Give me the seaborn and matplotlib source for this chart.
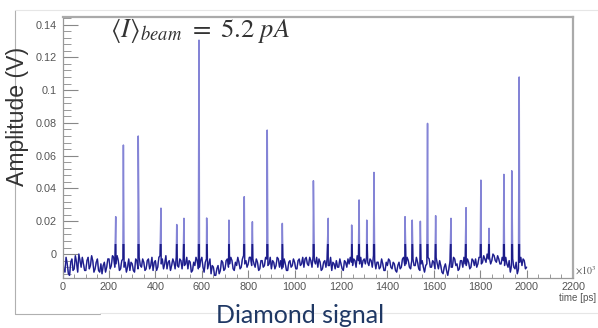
import numpy as np
import pandas as pd
import matplotlib
matplotlib.use('Agg')
import matplotlib.pyplot as plt
from matplotlib.lines import Line2D
from matplotlib.patches import Rectangle
from matplotlib.ticker import MultipleLocator, FixedLocator
import seaborn as sb

# baseline of the trace, samples at 0, 10, ... 2000 ps (V)
base_t = list(range(0, 2001, 10))
base_amp = [
    -0.004, -0.011, -0.006, -0.013, -0.003, -0.009, -0.005, 0.000, -0.008, -0.006,
    -0.010, -0.002, -0.007, -0.004, -0.009, -0.003, -0.011, -0.012, -0.005, -0.008,
    -0.003, -0.007, -0.002, -0.006, -0.004, -0.009, -0.003, -0.005, -0.008, -0.010,
    -0.006, -0.011, -0.004, -0.002, -0.008, -0.005, -0.009, -0.003, -0.007, -0.010,
    -0.004, -0.008, -0.001, -0.003, -0.006, -0.009, -0.004, -0.007, -0.005, -0.002,
    -0.008, -0.004, -0.003, -0.006, -0.009, -0.005, -0.010, -0.007, -0.004, -0.008,
    -0.002, -0.011, -0.003, -0.006, -0.012, -0.008, -0.013, -0.007, -0.010, -0.005,
    -0.009, -0.003, -0.006, -0.004, -0.010, -0.007, -0.005, -0.008, -0.001, -0.004,
    -0.006, -0.002, -0.003, -0.008, -0.005, -0.009, -0.004, -0.007, -0.003, -0.006,
    -0.009, -0.005, -0.007, -0.003, -0.004, -0.008, -0.006, -0.010, -0.004, -0.007,
    -0.005, -0.009, -0.003, -0.006, -0.008, -0.002, -0.007, -0.004, -0.001, -0.006,
    -0.008, -0.005, -0.009, -0.004, -0.003, -0.007, -0.010, -0.006, -0.004, -0.008,
    -0.006, -0.010, -0.005, -0.003, -0.002, -0.007, -0.004, -0.001, -0.006, -0.008,
    -0.003, -0.002, -0.007, -0.004, -0.001, -0.009, -0.005, -0.008, -0.006, -0.010,
    -0.007, -0.004, -0.009, -0.006, -0.011, -0.005, -0.008, -0.002, -0.006, -0.004,
    -0.009, -0.003, -0.007, -0.005, -0.010, -0.004, -0.011, -0.006, -0.003, -0.008,
    -0.005, -0.002, -0.009, -0.007, -0.012, -0.006, -0.013, -0.004, -0.008, -0.003,
    -0.006, -0.009, -0.004, -0.002, -0.007, -0.005, -0.008, -0.004, -0.003, -0.006,
    -0.002, -0.005, -0.003, 0.000, -0.002, -0.004, -0.001, -0.005, -0.003, -0.006,
    -0.004, -0.002, -0.008, -0.011, -0.003, -0.009, -0.012, -0.005, -0.007, -0.004,
    -0.008,
]
# in-between samples at 5, 15, ... 1995 ps (V)
mid_t = list(range(5, 2000, 10))
mid_amp = [
    -0.009, -0.002, -0.012, -0.005, -0.010, -0.001, -0.011, -0.004, -0.002, -0.010,
    -0.004, -0.009, -0.001, -0.011, -0.005, -0.010, -0.006, -0.007, -0.011, -0.003,
    -0.009, -0.001, -0.008, -0.001, -0.010, -0.004, -0.008, -0.011, -0.003, -0.005,
    -0.010, -0.003, -0.009, -0.007, -0.003, -0.010, -0.004, -0.009, -0.002, -0.005,
    -0.010, -0.002, -0.006, -0.009, -0.001, -0.005, -0.010, -0.003, -0.009, -0.007,
    -0.003, -0.009, -0.007, -0.002, -0.004, -0.011, -0.005, -0.002, -0.009, -0.004,
    -0.008, -0.005, -0.009, -0.003, -0.007, -0.013, -0.009, -0.012, -0.004, -0.010,
    -0.004, -0.008, -0.002, -0.009, -0.005, -0.002, -0.009, -0.003, -0.006, -0.008,
    -0.002, -0.007, -0.006, -0.003, -0.010, -0.004, -0.008, -0.002, -0.007, -0.002,
    -0.004, -0.009, -0.002, -0.008, -0.009, -0.003, -0.010, -0.005, -0.008, -0.003,
    -0.009, -0.004, -0.007, -0.002, -0.003, -0.006, -0.002, -0.008, -0.004, -0.002,
    -0.003, -0.010, -0.005, -0.008, -0.007, -0.002, -0.005, -0.009, -0.008, -0.003,
    -0.009, -0.004, -0.008, -0.006, -0.005, -0.003, -0.008, -0.004, -0.002, -0.004,
    -0.006, -0.005, -0.003, -0.008, -0.004, -0.005, -0.009, -0.003, -0.010, -0.005,
    -0.003, -0.008, -0.005, -0.010, -0.007, -0.009, -0.003, -0.007, -0.002, -0.008,
    -0.004, -0.007, -0.002, -0.009, -0.006, -0.008, -0.007, -0.002, -0.008, -0.004,
    -0.009, -0.006, -0.004, -0.011, -0.008, -0.010, -0.009, -0.008, -0.002, -0.007,
    -0.010, -0.004, -0.008, -0.006, -0.003, -0.009, -0.003, -0.007, -0.008, -0.002,
    -0.006, -0.001, -0.005, -0.003, -0.006, 0.000, -0.004, -0.001, -0.006, -0.002,
    -0.007, -0.006, -0.004, -0.007, -0.008, -0.005, -0.009, -0.002, -0.003, -0.009,
]

# signal spikes (ps, V)
peak_t = [229, 262, 326, 424, 492, 523, 588, 621, 717, 783, 818, 882, 947,
          1081, 1145, 1246, 1278, 1311, 1342, 1476, 1507, 1542, 1573, 1608,
          1674, 1739, 1803, 1838, 1902, 1936, 1968]
peak_amp = [0.0228, 0.0665, 0.072, 0.028, 0.018, 0.0218, 0.1305, 0.022,
            0.0207, 0.035, 0.0197, 0.0756, 0.0187, 0.0447, 0.0218, 0.0177,
            0.033, 0.0207, 0.0498, 0.0228, 0.0207, 0.020, 0.0797, 0.0234,
            0.0218, 0.0283, 0.0451, 0.0157, 0.0486, 0.0508, 0.108]

y_ticks = [0, 0.02, 0.04, 0.06, 0.08, 0.1, 0.12, 0.14]
y_labels = ['0', '0.02', '0.04', '0.06', '0.08', '0.1', '0.12', '0.14']
x_ticks = [0, 200, 400, 600, 800, 1000, 1200, 1400, 1600, 1800, 2000, 2200]

trace = pd.concat([
    pd.DataFrame({'t': base_t, 'amp': base_amp}),
    pd.DataFrame({'t': mid_t, 'amp': mid_amp}),
    pd.DataFrame({'t': peak_t, 'amp': peak_amp}),
]).sort_values('t')

sb.set_style('white')
plt.rcParams['font.family'] = ['Liberation Sans', 'DejaVu Sans']
plt.rcParams['mathtext.fontset'] = 'stix'

fig = plt.figure(figsize=(5.98, 3.28), dpi=100)
ax = fig.add_axes([62.6 / 598, 1 - 278 / 328, 510.4 / 598, 261 / 328])

# thin light trace (spikes look pale), dark only inside the noise band
sb.lineplot(data=trace, x='t', y='amp', ax=ax, estimator=None, sort=False,
            color='#8484d6', linewidth=1.1)
sb.lineplot(data=trace, x='t', y='amp', ax=ax, estimator=None, sort=False,
            color='#1c1c88', linewidth=0.85)
band = Rectangle((0, -0.02), 2200, 0.026, transform=ax.transData)
ax.lines[-1].set_clip_path(band)

ax.set_xlim(0, 2200)
ax.set_ylim(-0.0146, 0.1446)
ax.set_xlabel('')
ax.set_ylabel('')

ax.xaxis.set_major_locator(FixedLocator(x_ticks))
ax.xaxis.set_minor_locator(MultipleLocator(50))
ax.set_xticklabels([str(v) for v in x_ticks])
ax.yaxis.set_major_locator(FixedLocator(y_ticks))
ax.yaxis.set_minor_locator(MultipleLocator(0.004))
ax.set_yticklabels(y_labels)

ax.tick_params(axis='x', which='major', direction='in', length=6, width=0.8,
               color='#888888', labelsize=7.8, labelcolor='#555555', pad=3,
               bottom=True)
ax.tick_params(axis='x', which='minor', direction='in', length=3, width=0.6,
               color='#888888', bottom=True)
ax.tick_params(axis='y', which='major', direction='in', length=11, width=0.8,
               color='#888888', labelsize=7.8, labelcolor='#555555', pad=4,
               left=True)
ax.tick_params(axis='y', which='minor', direction='in', length=5.5, width=0.6,
               color='#888888', left=True)

for side in ['left', 'bottom']:
    ax.spines[side].set_color('#999999')
    ax.spines[side].set_linewidth(0.9)
for side in ['top', 'right']:
    ax.spines[side].set_color('#aaaaaa')
    ax.spines[side].set_linewidth(1.6)

fig.text(575 / 598, 1 - 271 / 328, r'$\times10^{3}$', fontsize=7,
         color='#555555', ha='left', va='center')
fig.text(596 / 598, 1 - 298 / 328, 'time [ps]', fontsize=7,
         color='#555555', ha='right', va='center')

ylab = fig.text(18 / 598, 1 - 116 / 328, 'Amplitude (V)', fontsize=16,
                color='#333333', rotation=90, ha='center', va='center')
note = fig.text(110 / 598, 1 - 37 / 328,
                r'$\langle I\rangle_{beam}\ =\ 5.2\ pA$',
                fontsize=18, color='#333333', ha='left', va='baseline')

# size both texts to the lengths they have on the slide
fig.canvas.draw()
r = fig.canvas.get_renderer()
ylab.set_fontsize(16 * 140 / ylab.get_window_extent(r).height)
note.set_fontsize(18 * 180 / note.get_window_extent(r).width)

fig.text(300 / 598, 1 - 323 / 328, 'Diamond signal', fontsize=18,
         family=['Lato', 'DejaVu Sans'], color='#1f3864',
         ha='center', va='baseline')

# slide picture border
border = dict(transform=fig.transFigure, linewidth=0.8)
fig.add_artist(Line2D([15 / 598, 15 / 598], [1 - 10 / 328, 1 - 314 / 328],
                      color='#b0b0b0', **border))
fig.add_artist(Line2D([15 / 598, 1], [1 - 10 / 328, 1 - 10 / 328],
                      color='#e6e6e6', **border))
fig.add_artist(Line2D([15 / 598, 100 / 598], [1 - 314 / 328, 1 - 314 / 328],
                      color='#b0b0b0', **border))
fig.add_artist(Line2D([100 / 598, 1], [1 - 313 / 328, 1 - 313 / 328],
                      color='#e6e6e6', **border))

fig.savefig('out.png', dpi=100)
